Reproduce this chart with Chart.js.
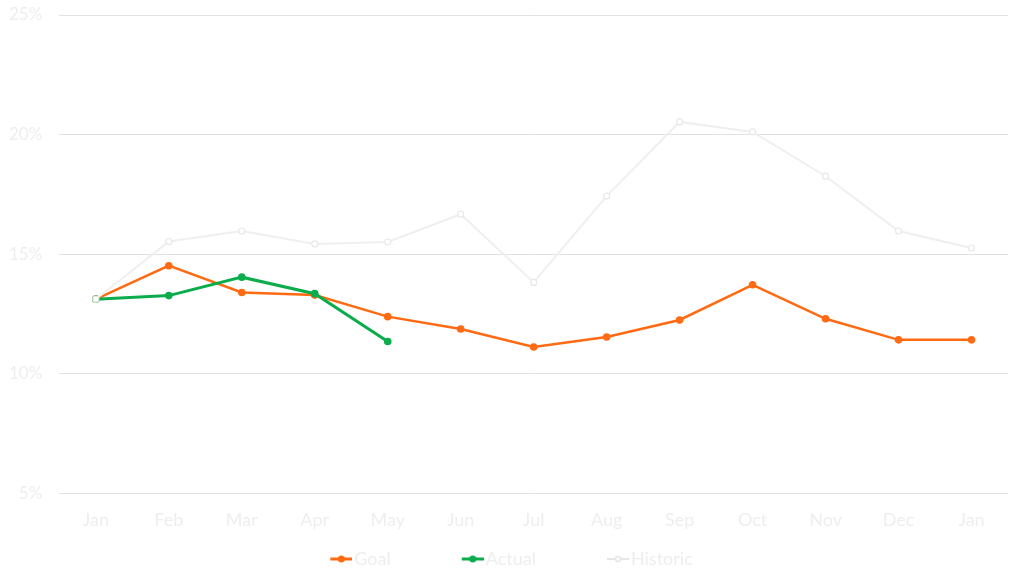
<!DOCTYPE html>
<html>
<head>
<meta charset="utf-8">
<script src="https://cdn.jsdelivr.net/npm/chart.js@4/dist/chart.umd.min.js"></script>
<style>
  html, body { margin: 0; padding: 0; background: #fff; }
  #wrap { width: 1024px; height: 575px; position: relative; }
</style>
</head>
<body>
<div id="wrap"><canvas id="chart"></canvas></div>
<script>
// ── Data ────────────────────────────────────────────────────────────────────
const months   = ['Jan', 'Feb', 'Mar', 'Apr', 'May', 'Jun', 'Jul', 'Aug', 'Sep', 'Oct', 'Nov', 'Dec', 'Jan'];
const goal     = [13.12, 14.52, 13.40, 13.29, 12.39, 11.87, 11.12, 11.54, 12.25, 13.72, 12.30, 11.42, 11.42];
const actual   = [13.12, 13.27, 14.04, 13.35, 11.35];
const historic = [13.12, 15.53, 15.97, 15.43, 15.51, 16.67, 13.82, 17.43, 20.53, 20.11, 18.26, 15.97, 15.26];
const yTicks   = [5, 10, 15, 20, 25];

const GOAL_COLOR = '#ff6a13';
const ACTUAL_COLOR = '#0aac4c';
const HIST_COLOR = '#efefef';
const LIGHT_TEXT = '#eeeeee';
const FONT = 'Lato, "Noto Sans", sans-serif';

// Legend marker: a short line with a dot in the middle. The image is wider
// than the legend box and the line sits on its right half, so the label text
// ends up right next to the marker as in the original.
function legendMarker(color, hollow) {
  const c = document.createElement('canvas');
  const w = 36, h = 10, x0 = 14;
  c.width = w; c.height = h;
  const ctx = c.getContext('2d');
  ctx.strokeStyle = color;
  ctx.lineWidth = hollow ? 2 : 3;
  ctx.beginPath();
  ctx.moveTo(x0, h / 2);
  ctx.lineTo(w, h / 2);
  ctx.stroke();
  ctx.beginPath();
  ctx.arc(x0 + (w - x0) / 2, h / 2, hollow ? 2.5 : 3.5, 0, Math.PI * 2);
  ctx.fillStyle = hollow ? '#fff' : color;
  ctx.fill();
  if (hollow) { ctx.lineWidth = 1.5; ctx.stroke(); }
  return c;
}

const markers = [legendMarker(GOAL_COLOR), legendMarker(ACTUAL_COLOR), legendMarker('#e6e6e6', true)];
// wide gaps between legend entries without inflating the legend's height
const legendGap = '\u2003\u2003\u2003\u2003';

new Chart(document.getElementById('chart'), {
  type: 'line',
  data: {
    labels: months,
    datasets: [
      {
        label: 'Goal',
        data: goal,
        borderColor: GOAL_COLOR,
        backgroundColor: GOAL_COLOR,
        borderWidth: 2.5,
        pointRadius: 3.8,
        pointBorderWidth: 0,
        tension: 0,
        order: 1,
      },
      {
        label: 'Actual',
        data: actual,
        borderColor: ACTUAL_COLOR,
        backgroundColor: ACTUAL_COLOR,
        borderWidth: 3,
        pointRadius: 3.8,
        pointBorderWidth: 0,
        tension: 0,
        order: 0,
      },
      {
        // drawn on top: the shared January start shows the hollow marker
        label: 'Historic',
        data: historic,
        borderColor: HIST_COLOR,
        backgroundColor: '#ffffff',
        pointBorderColor: '#e8e8e8',
        borderWidth: 2,
        pointRadius: 3,
        pointBorderWidth: 1.2,
        tension: 0,
        order: -1,
      },
    ],
  },
  options: {
    responsive: true,
    maintainAspectRatio: false,
    animation: false,
    devicePixelRatio: 1,
    layout: { padding: { top: 0, right: 16, left: 8, bottom: -3 } },
    plugins: {
      tooltip: { enabled: false },
      legend: {
        position: 'bottom',
        labels: {
          usePointStyle: true,
          pointStyleWidth: 22,
          padding: 10,
          color: LIGHT_TEXT,
          font: { family: FONT, size: 18 },
          generateLabels: (chart) => chart.data.datasets.map((ds, i, all) => ({
            text: i < all.length - 1 ? ds.label + legendGap : ds.label,
            pointStyle: markers[i],
            fontColor: LIGHT_TEXT,
            datasetIndex: i,
            hidden: false,
            lineWidth: 0,
          })),
        },
      },
    },
    scales: {
      x: {
        offset: true,
        grid: { display: false },
        border: { display: false },
        afterFit: (axis) => { axis.height += 1; },
        ticks: {
          color: LIGHT_TEXT,
          padding: 8,
          font: { family: FONT, size: 18 },
          maxRotation: 0,
          autoSkip: false,
        },
      },
      y: {
        min: 5,
        max: 25,
        afterBuildTicks: (axis) => { axis.ticks = yTicks.map((v) => ({ value: v })); },
        afterFit: (axis) => {
          axis.width -= 16;
          axis.paddingTop = 15;
          axis.paddingBottom = 10;
        },
        grid: { color: '#e2e2e2', lineWidth: 1, drawTicks: false },
        border: { display: false },
        ticks: {
          color: LIGHT_TEXT,
          padding: 17,
          font: { family: FONT, size: 17 },
          callback: (v) => v + '%',
        },
      },
    },
  },
});
</script>
</body>
</html>
